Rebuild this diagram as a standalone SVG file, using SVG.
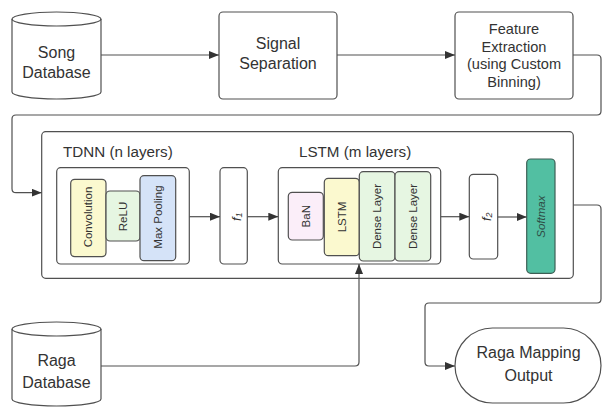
<svg xmlns="http://www.w3.org/2000/svg" width="602" height="407" viewBox="0 0 602 407">
<style>
.box{fill:#ffffff;stroke:#505050;stroke-width:1.2}
.t{font-family:"Liberation Sans",Arial,sans-serif;font-size:16px;fill:#333;text-anchor:middle}
.s{font-family:"Liberation Sans",Arial,sans-serif;font-size:11.5px;fill:#333;text-anchor:middle;dominant-baseline:central}
.c{fill:none;stroke:#505050;stroke-width:1.2}
</style>
<defs>
<marker id="ah" markerWidth="10" markerHeight="8" refX="10" refY="4" orient="auto" markerUnits="userSpaceOnUse">
<path d="M0,0 L10,4 L0,8 Z" fill="#333"/>
</marker>
</defs>
<rect width="602" height="407" fill="#ffffff"/>

<g id="song-db">
<path class="box" d="M12,19 A44.5,7 0 0 1 101,19 L101,92 A44.5,7 0 0 1 12,92 Z"/>
<path class="c" d="M12,19 A44.5,7 0 0 0 101,19"/>
<text class="t" x="56.5" y="58">Song</text>
<text class="t" x="56.5" y="78">Database</text>
</g>

<g id="signal-sep">
<rect class="box" x="219" y="12" width="118" height="87" rx="4"/>
<text class="t" x="278" y="49">Signal</text>
<text class="t" x="278" y="69">Separation</text>
</g>

<g id="feature-ext">
<rect class="box" x="455" y="12" width="118" height="87" rx="4"/>
<text class="t" style="font-size:14.6px" x="514" y="34">Feature</text>
<text class="t" style="font-size:14.6px" x="514" y="52">Extraction</text>
<text class="t" style="font-size:14.6px" x="514" y="69">(using Custom</text>
<text class="t" style="font-size:14.6px" x="514" y="87">Binning)</text>
</g>

<g id="model">
<rect class="box" x="41.7" y="131.7" width="531.6" height="146.6" rx="4"/>
<text class="t" style="font-size:15.2px;text-anchor:start" x="63" y="157">TDNN (n layers)</text>
<text class="t" style="font-size:15.2px;text-anchor:start" x="299" y="157">LSTM (m layers)</text>
</g>

<g id="tdnn">
<rect class="box" x="56.7" y="167.7" width="132.6" height="96.3" rx="4"/>
<rect class="box" style="fill:#fbf9cf" x="70.7" y="179.3" width="35.3" height="77.4" rx="4"/>
<text class="s" transform="translate(88.3,217) rotate(-90)">Convolution</text>
<rect class="box" style="fill:#e6f6e2" x="106" y="191" width="34" height="50" rx="4"/>
<text class="s" transform="translate(123,216.5) rotate(-90)">ReLU</text>
<rect class="box" style="fill:#d5e3f8" x="140" y="175.7" width="35.7" height="85" rx="4"/>
<text class="s" transform="translate(157.8,217) rotate(-90)">Max Pooling</text>
</g>

<g id="f1">
<rect class="box" x="220" y="167.7" width="27.3" height="96.3" rx="4"/>
<text class="s" style="font-style:italic;font-size:13px" transform="translate(236,216.7) rotate(-90)">f<tspan font-size="9" dy="2.5">1</tspan></text>
</g>

<g id="lstm">
<rect class="box" x="278.3" y="167.7" width="162.4" height="96.3" rx="4"/>
<rect class="box" style="fill:#fbeef9" x="288.3" y="192.3" width="35" height="47.7" rx="4"/>
<text class="s" transform="translate(305.8,216.2) rotate(-90)">BaN</text>
<rect class="box" style="fill:#fbf9cf" x="324.3" y="178.3" width="35" height="77.4" rx="4"/>
<text class="s" transform="translate(341.8,217) rotate(-90)">LSTM</text>
<rect class="box" style="fill:#e6f6e2" x="359.3" y="171.7" width="35.7" height="89.3" rx="4"/>
<text class="s" transform="translate(377.2,216.5) rotate(-90)">Dense Layer</text>
<rect class="box" style="fill:#e6f6e2" x="395" y="171.7" width="35.7" height="89.3" rx="4"/>
<text class="s" transform="translate(412.8,216.5) rotate(-90)">Dense Layer</text>
</g>

<g id="f2">
<rect class="box" x="469.3" y="174.3" width="28.4" height="84.7" rx="4"/>
<text class="s" style="font-style:italic;font-size:13px" transform="translate(486.5,216.7) rotate(-90)">f<tspan font-size="9" dy="2.5">2</tspan></text>
</g>

<g id="softmax">
<rect class="box" style="fill:#52bfa2;stroke:#3d5f55" x="526.7" y="159" width="28.3" height="114.3" rx="4"/>
<text class="s" style="font-style:italic;fill:#2e4d45" transform="translate(541,216.7) rotate(-90)">Softmax</text>
</g>

<g id="raga-db">
<path class="box" d="M12,329 A44.5,7 0 0 1 101,329 L101,399 A44.5,7 0 0 1 12,399 Z"/>
<path class="c" d="M12,329 A44.5,7 0 0 0 101,329"/>
<text class="t" x="56.5" y="366">Raga</text>
<text class="t" x="56.5" y="388">Database</text>
</g>

<g id="raga-out">
<rect class="box" x="455" y="328" width="146" height="75" rx="37.5"/>
<text class="t" x="528.5" y="358">Raga Mapping</text>
<text class="t" x="528.5" y="381">Output</text>
</g>

<g id="connectors">
<path class="c" d="M101,55 L219,55" marker-end="url(#ah)"/>
<path class="c" d="M337,55 L455,55" marker-end="url(#ah)"/>
<path class="c" d="M573,55 L597,55 Q601,55 601,59 L601,111 Q601,115 597,115 L16,115 Q12,115 12,119 L12,188.7 Q12,192.7 16,192.7 L41.7,192.7" marker-end="url(#ah)"/>
<path class="c" d="M189.3,216.7 L220,216.7" marker-end="url(#ah)"/>
<path class="c" d="M247.3,216.7 L278.3,216.7" marker-end="url(#ah)"/>
<path class="c" d="M440.7,216.7 L469.3,216.7" marker-end="url(#ah)"/>
<path class="c" d="M497.7,217 L526.7,217" marker-end="url(#ah)"/>
<path class="c" d="M573.3,205 L597,205 Q601,205 601,209 L601,299 Q601,303 597,303 L429,303 Q425,303 425,307 L425,362 Q425,366 429,366 L455,366" marker-end="url(#ah)"/>
<path class="c" d="M101,366 L355,366 Q359,366 359,362 L359,264" marker-end="url(#ah)"/>
</g>
</svg>
